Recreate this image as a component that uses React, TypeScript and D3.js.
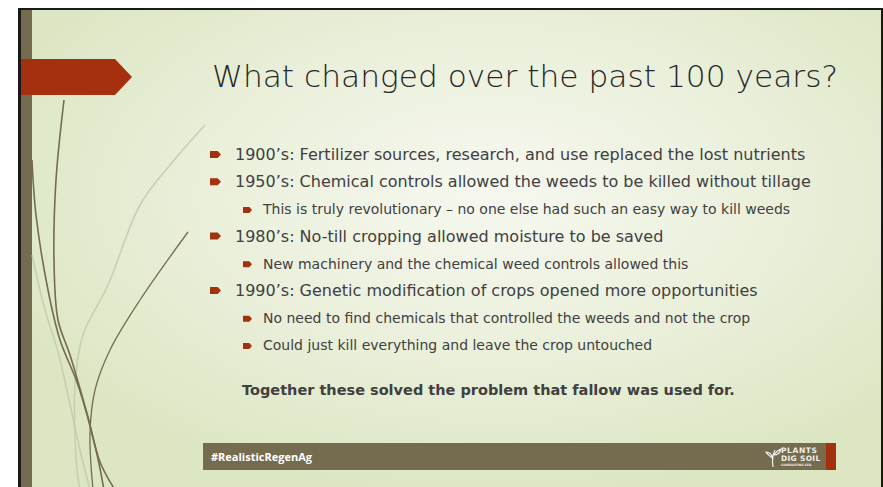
import React from "react";
import * as d3 from "d3";

// slide content
const title = "What changed over the past 100 years?";
const bulletLevels = [0, 0, 1, 0, 1, 0, 1, 1];
const bulletTexts = [
  "1900’s: Fertilizer sources, research, and use replaced the lost nutrients",
  "1950’s: Chemical controls allowed the weeds to be killed without tillage",
  "This is truly revolutionary – no one else had such an easy way to kill weeds",
  "1980’s: No-till cropping allowed moisture to be saved",
  "New machinery and the chemical weed controls allowed this",
  "1990’s: Genetic modification of crops opened more opportunities",
  "No need to find chemicals that controlled the weeds and not the crop",
  "Could just kill everything and leave the crop untouched",
];
const closingText = "Together these solved the problem that fallow was used for.";
const footerText = "#RealisticRegenAg";
const logoLines = ["PLANTS", "DIG SOIL", "CONSULTING LTD."];

// decorative grass strokes on the left (x, y)
const darkCurves: [number, number][][] = [
  [[64, 100], [56, 180], [54, 260], [58, 320], [70, 355], [88, 417], [100, 462], [115, 490]],
  [[32, 160], [36, 215], [48, 290], [60, 340], [78, 385], [96, 450], [104, 490]],
  [[188, 232], [140, 300], [110, 350], [95, 390], [90, 433], [93, 490]],
];
const lightCurves: [number, number][][] = [
  [[205, 125], [170, 165], [140, 205], [108, 285], [83, 335], [75, 385], [77, 470], [80, 490]],
  [[32, 255], [45, 310], [58, 352], [80, 450], [90, 490]],
];

const W = 883;
const H = 487;
const TEXT = "#404040";
const OLIVE = "#756c50";
const RED = "#a5300f";
const FONT = "'DejaVu Sans', sans-serif";

export default function App() {
  // row index -> baseline position (the closing line sits after a blank gap)
  const y = d3.scaleLinear().domain([0, 1]).range([160, 187.2]);
  const x = d3.scaleOrdinal<number, number>().domain([0, 1]).range([210, 243]);

  const curve = d3
    .line<[number, number]>()
    .x((d) => d[0])
    .y((d) => d[1])
    .curve(d3.curveCatmullRom);

  const arrow = (cx: number, cy: number, w: number, h: number, tip = 0.3) =>
    `M${cx},${cy - h / 2}H${cx + w - tip * w}L${cx + w},${cy}L${cx + w - tip * w},${cy + h / 2}H${cx}Z`;

  return (
    <svg
      width={W}
      height={H}
      style={{ position: "fixed", left: 0, top: 0, background: "#fff" }}
    >
      <defs>
        <radialGradient id="bg" cx="0.55" cy="0.38" r="0.62">
          <stop offset="0" stopColor="#f6f8ef" />
          <stop offset="0.5" stopColor="#ebf0dc" />
          <stop offset="1" stopColor="#dce6c3" />
        </radialGradient>
      </defs>

      {/* slide */}
      <rect x={18} y={8} width={865} height={490} fill="#1a1a1a" />
      <rect x={21} y={10} width={860} height={490} fill="url(#bg)" />
      <rect x={21} y={10} width={11} height={490} fill={OLIVE} />

      {lightCurves.map((c, i) => (
        <path key={"l" + i} d={curve(c) || ""} fill="none" stroke="#c2c8ad" strokeWidth={1.6} opacity={0.8} />
      ))}
      {darkCurves.map((c, i) => (
        <path key={"d" + i} d={curve(c) || ""} fill="none" stroke={OLIVE} strokeWidth={i === 2 ? 1.3 : 1.6} />
      ))}

      {/* title banner */}
      <path d={arrow(21, 77, 111, 36, 17 / 111)} fill={RED} />

      <text
        x={212}
        y={87}
        fontFamily={FONT}
        fontSize={30}
        fontWeight={300}
        fill="#262626"
        textLength={626}
        lengthAdjust="spacingAndGlyphs"
      >
        {title}
      </text>

      {bulletTexts.map((t, i) => {
        const lvl = bulletLevels[i];
        const bx = x(lvl);
        const by = y(i);
        return (
          <g key={i}>
            <path
              d={arrow(bx, by - (lvl ? 4.5 : 5.5), lvl ? 9 : 11, lvl ? 6 : 7)}
              fill={RED}
            />
            <text
              x={bx + (lvl ? 20 : 25)}
              y={by}
              fontFamily={FONT}
              fontSize={lvl ? 14 : 16}
              fill={TEXT}
            >
              {t}
            </text>
          </g>
        );
      })}

      <text
        x={242}
        y={y(bulletTexts.length) + 17.5}
        fontFamily={FONT}
        fontSize={14.5}
        fontWeight="bold"
        fill={TEXT}
      >
        {closingText}
      </text>

      {/* footer */}
      <rect x={203} y={443} width={623} height={27} fill={OLIVE} />
      <rect x={826} y={443} width={10} height={27} fill={RED} />
      <text
        x={211}
        y={461}
        fontFamily="'Open Sans', sans-serif"
        fontSize={11}
        fontWeight="bold"
        fill="#fff"
      >
        {footerText}
      </text>
      <g fill="#fff" fontFamily="'DejaVu Sans', sans-serif" fontWeight="bold" opacity={0.9}>
        <path
          d="M773,467 C772,461 772,456 775,450 M773,459 C770,455 767,455 766,452 C770,452 772,455 773,459 M774,455 C776,451 779,450 781,449 C780,453 777,455 774,455"
          stroke="#fff"
          strokeWidth={1.2}
          fill="none"
        />
        <text x={781} y={453} fontSize={7.5} letterSpacing={0.6}>{logoLines[0]}</text>
        <text x={781} y={461} fontSize={7.5} letterSpacing={0.3}>{logoLines[1]}</text>
        <text x={781} y={466} fontSize={3.2}>{logoLines[2]}</text>
      </g>
    </svg>
  );
}
